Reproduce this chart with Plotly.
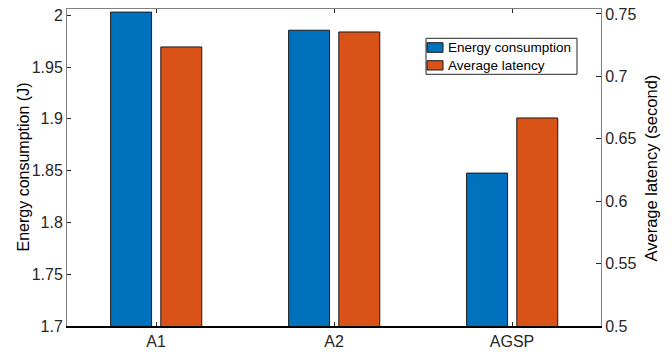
import plotly.graph_objects as go

categories = ["A1", "A2", "AGSP"]
energy = [2.003, 1.9855, 1.8476]
latency = [0.7236, 0.7356, 0.6667]
left_ticks = [1.7, 1.75, 1.8, 1.85, 1.9, 1.95, 2.0]
left_tick_text = ["1.7", "1.75", "1.8", "1.85", "1.9", "1.95", "2"]
right_ticks = [0.5, 0.55, 0.6, 0.65, 0.7, 0.75]
right_tick_text = ["0.5", "0.55", "0.6", "0.65", "0.7", "0.75"]
series_names = ["Energy consumption", "Average latency"]
colors = ["#0072BD", "#D95319"]

xpos = [1, 2, 3]
font = "Liberation Sans, Arial, sans-serif"
ink = "#262626"
gray = "#808080"

# plot area in pixels
L, R, T, B = 67, 601, 9, 326
W, H = 672, 352
def px(x):
    return (x - L) / (R - L)
def py(y):
    return (B - y) / (B - T)

fig = go.Figure()
fig.add_trace(go.Bar(
    x=xpos, y=energy, name=series_names[0], yaxis="y",
    width=0.23, offset=-0.255,
    marker=dict(color=colors[0], line=dict(color="#1a1a1a", width=1)),
))
fig.add_trace(go.Bar(
    x=xpos, y=latency, name=series_names[1], yaxis="y2",
    width=0.23, offset=0.027,
    marker=dict(color=colors[1], line=dict(color="#1a1a1a", width=1)),
))
# invisible trace to enable top axis
fig.add_trace(go.Scatter(x=[1], y=[1.8], xaxis="x2", yaxis="y", mode="markers",
                         marker=dict(opacity=0), showlegend=False, hoverinfo="skip"))

shapes = []
annotations = []
# legend box
shapes.append(dict(type="rect", xref="paper", yref="paper",
                   x0=px(426), x1=px(577), y0=py(74.3), y1=py(38.3),
                   line=dict(color=ink, width=1), fillcolor="white", layer="above"))
rows = [(42.7, 52.3), (60.7, 70.0)]
for name, col, (y0, y1) in zip(series_names, colors, rows):
    shapes.append(dict(type="rect", xref="paper", yref="paper",
                       x0=px(427), x1=px(443), y0=py(y1), y1=py(y0),
                       line=dict(color="#1a1a1a", width=1), fillcolor=col, layer="above"))
    annotations.append(dict(text=name, xref="paper", yref="paper",
                            x=px(447), y=py((y0 + y1) / 2), xanchor="left", yanchor="middle",
                            showarrow=False, borderpad=0,
                            font=dict(size=13.5, color="black")))
# axis titles
annotations.append(dict(text="Energy consumption (J)", xref="paper", yref="paper",
                        x=px(23), y=0.5, textangle=-90, showarrow=False,
                        xanchor="center", yanchor="middle",
                        font=dict(size=16, color="black")))
annotations.append(dict(text="Average latency (second)", xref="paper", yref="paper",
                        x=px(650), y=0.5, textangle=-90, showarrow=False,
                        xanchor="center", yanchor="middle",
                        font=dict(size=16.5, color="black")))

fig.update_layout(
    width=W, height=H,
    margin=dict(l=L, r=W - R, t=T, b=H - B),
    plot_bgcolor="white", paper_bgcolor="white",
    font=dict(family=font, size=16, color=ink),
    barmode="overlay",
    showlegend=False,
    shapes=shapes, annotations=annotations,
    xaxis=dict(range=[0.5, 3.5], tickvals=xpos, ticktext=categories,
               showline=True, linecolor="black", linewidth=1.5,
               ticks="inside", ticklen=4, tickcolor=ink, showgrid=False,
               zeroline=False, automargin=False, ticklabelstandoff=0,
               tickfont=dict(size=16, color=ink)),
    xaxis2=dict(range=[0.5, 3.5], overlaying="x", side="top", tickvals=xpos,
                showticklabels=False, showline=True, linecolor=gray,
                linewidth=1, ticks="inside", ticklen=4, tickcolor=ink,
                showgrid=False, zeroline=False, automargin=False),
    yaxis=dict(range=[1.7, 2.006], tickvals=left_ticks, ticktext=left_tick_text,
               showline=True, linecolor=gray, linewidth=1,
               ticks="inside", ticklen=4, tickcolor=ink, showgrid=False,
               zeroline=False, automargin=False,
               tickfont=dict(size=16, color=ink)),
    yaxis2=dict(range=[0.5, 0.754], tickvals=right_ticks, ticktext=right_tick_text,
                overlaying="y", side="right", anchor="x",
                showline=True, linecolor=gray, linewidth=1,
                ticks="inside", ticklen=5, tickcolor=ink, showgrid=False,
                zeroline=False, automargin=False,
                tickfont=dict(size=16, color=ink)),
)

fig.write_html("out.html", config={"displayModeBar": False},
               post_script="document.body.style.margin='0';document.body.style.overflow='hidden';")
